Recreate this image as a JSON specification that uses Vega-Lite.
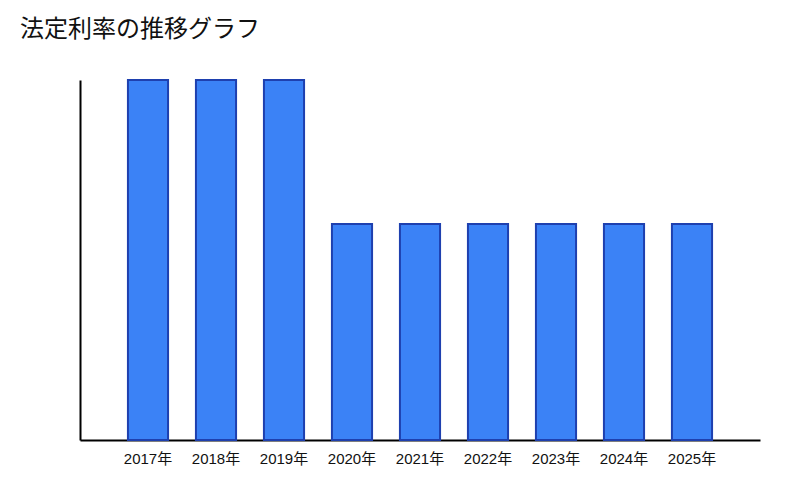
{
  "$schema": "https://vega.github.io/schema/vega-lite/v6.json",
  "width": 680,
  "height": 360,
  "autosize": "none",
  "padding": {"left": 80, "top": 80, "right": 40, "bottom": 60},
  "background": "white",
  "title": {
    "text": "法定利率の推移グラフ",
    "anchor": "start",
    "frame": "group",
    "dx": -60,
    "offset": 38,
    "dy": 20,
    "baseline": "alphabetic",
    "fontSize": 24,
    "fontWeight": "normal",
    "font": "Noto Sans CJK JP",
    "color": "#111111"
  },
  "data": {
    "values": [
      {"year": "2017年", "rate": 5},
      {"year": "2018年", "rate": 5},
      {"year": "2019年", "rate": 5},
      {"year": "2020年", "rate": 3},
      {"year": "2021年", "rate": 3},
      {"year": "2022年", "rate": 3},
      {"year": "2023年", "rate": 3},
      {"year": "2024年", "rate": 3},
      {"year": "2025年", "rate": 3}
    ]
  },
  "mark": {"type": "bar", "fill": "#3b82f6", "stroke": "#1e40af", "strokeWidth": 2},
  "encoding": {
    "x": {
      "field": "year",
      "type": "ordinal",
      "sort": null,
      "scale": {"paddingInner": 0.41, "paddingOuter": 0.705},
      "axis": {
        "title": null,
        "labelAngle": 0,
        "ticks": false,
        "domainColor": "#000000",
        "domainWidth": 2,
        "labelColor": "#111111",
        "labelFontSize": 15,
        "labelFont": "Liberation Sans, Noto Sans CJK JP",
        "labelPadding": 11
      }
    },
    "y": {
      "field": "rate",
      "type": "quantitative",
      "scale": {"domain": [0, 5]},
      "axis": {
        "title": null,
        "labels": false,
        "ticks": false,
        "grid": false,
        "domainColor": "#000000",
        "domainWidth": 2
      }
    }
  },
  "config": {"view": {"stroke": null}}
}
